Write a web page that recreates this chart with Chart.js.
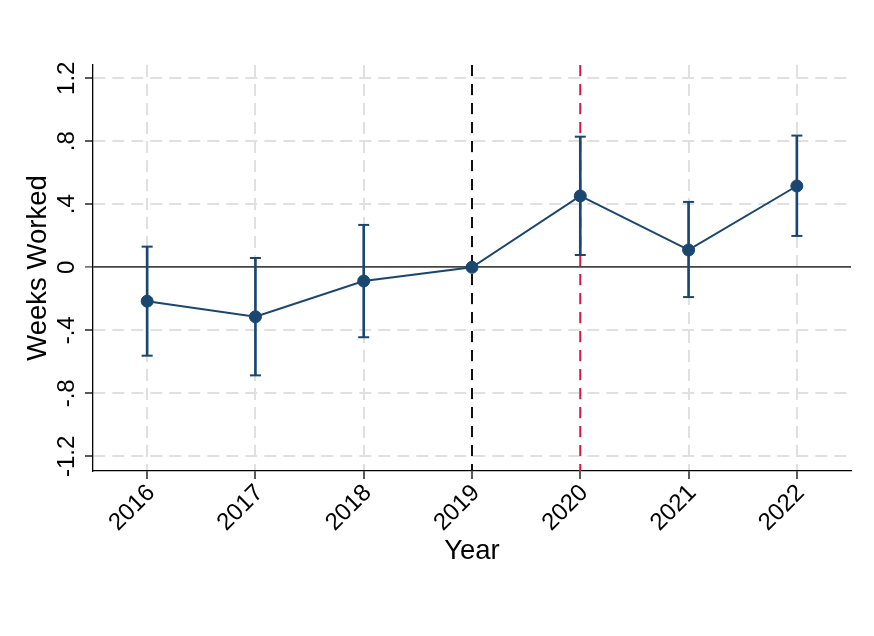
<!DOCTYPE html>
<html>
<head>
<meta charset="utf-8">
<script src="https://cdn.jsdelivr.net/npm/chart.js@4"></script>
<style>
  html, body { margin: 0; padding: 0; background: #fff; }
  canvas { display: block; }
</style>
</head>
<body>
<canvas id="chart" width="874" height="636"></canvas>
<script>
// event-study style plot: coefficient per year with 95% CI

const years  = [2016, 2017, 2018, 2019, 2020, 2021, 2022];
const coef   = [-0.215, -0.314, -0.087, 0, 0.453, 0.110, 0.516];
const ciLow  = [-0.561, -0.686, -0.444, null, 0.078, -0.189, 0.199];
const ciHigh = [0.131, 0.059, 0.269, null, 0.829, 0.415, 0.836];

const yTicks      = [-1.2, -0.8, -0.4, 0, 0.4, 0.8, 1.2];
const yTickLabels = ["-1.2", "-.8", "-.4", "0", ".4", ".8", "1.2"];

const refYears  = [2019, 2020];          // dashed vertical markers
const refColors = ["#111111", "#d81b45"];

const X_MIN = 2015.5, X_MAX = 2022.5;
const Y_MIN = -1.293, Y_MAX = 1.284;

const C = {
  navy: "#1a476f",
  grid: "#e0e0e0",
  zero: "#444444",
  ink:  "#000000",
};
const FONT = "'Liberation Sans', Arial, sans-serif";

// --- datasets --------------------------------------------------------
const pts = years.map((y, i) => ({ x: y, y: coef[i] }));
const ciIdx = years.map((_, i) => i).filter((i) => ciLow[i] !== null);
const ciBars = ciIdx.map((i) => ({ x: years[i], y: [ciLow[i], ciHigh[i]] }));
const capsLo = ciIdx.map((i) => ({ x: years[i], y: ciLow[i] }));
const capsHi = ciIdx.map((i) => ({ x: years[i], y: ciHigh[i] }));

const capStyle = {
  type: "line", showLine: false, pointStyle: "line", pointRadius: 5.5,
  pointBorderWidth: 2, pointBorderColor: C.navy, pointBackgroundColor: C.navy,
};

const datasets = [
  { type: "line", data: pts, borderColor: C.navy, borderWidth: 2, pointRadius: 6,
    pointBackgroundColor: C.navy, pointBorderColor: C.navy, pointBorderWidth: 1 },
  Object.assign({ data: capsHi }, capStyle),
  Object.assign({ data: capsLo }, capStyle),
  { type: "bar", data: ciBars, backgroundColor: C.navy, barThickness: 2 },
];
refYears.forEach((yr, k) => {
  datasets.push({
    type: "line",
    data: [{ x: yr, y: Y_MAX }, { x: yr, y: Y_MIN }],
    borderColor: refColors[k], borderWidth: 2, borderDash: [11, 8], pointRadius: 0,
  });
});

// --- chart -----------------------------------------------------------
new Chart(document.getElementById("chart"), {
  type: "line",
  data: { datasets },
  options: {
    responsive: false,
    animation: false,
    events: [],
    layout: { padding: { left: 0, top: 65, right: 23, bottom: 0 } },
    plugins: { legend: { display: false }, tooltip: { enabled: false } },
    scales: {
      x: {
        type: "linear", min: X_MIN, max: X_MAX, offset: false,
        afterBuildTicks: (s) => { s.ticks = years.map((v) => ({ value: v })); },
        afterFit: (s) => { s.height = 165; },
        ticks: {
          callback: (v) => String(v), minRotation: 45, maxRotation: 45, labelOffset: 4,
          color: C.ink, font: { family: FONT, size: 24 }, padding: 0,
        },
        grid: { color: C.grid, lineWidth: 2, tickLength: 8, tickColor: C.ink, tickWidth: 1.3, offset: false },
        border: { display: true, color: C.ink, width: 1.3, dash: (ctx) => (ctx.tick ? [12, 7] : []) },
        title: { display: true, text: "Year", color: C.ink, font: { family: FONT, size: 27.5 },
                 padding: { top: 0, bottom: 68 } },
      },
      y: {
        type: "linear", min: Y_MIN, max: Y_MAX,
        afterBuildTicks: (s) => { s.ticks = yTicks.map((v) => ({ value: v })); },
        afterFit: (s) => { s.width = 93; },
        ticks: {
          callback: (v, i) => yTickLabels[i], minRotation: 90, maxRotation: 90,
          crossAlign: "center", color: C.ink, font: { family: FONT, size: 24 }, padding: -3,
        },
        grid: {
          color: (ctx) => (ctx.tick && ctx.tick.value === 0 ? C.zero : C.grid),
          lineWidth: (ctx) => (ctx.tick && ctx.tick.value === 0 ? 1.8 : 2),
          tickLength: 8,
          tickColor: (ctx) => (ctx.tick && ctx.tick.value === 0 ? C.zero : C.ink),
          tickWidth: 1.3,
        },
        border: {
          display: true, color: C.ink, width: 1.3,
          dash: (ctx) => (ctx.tick && ctx.tick.value !== 0 ? [12, 7] : []),
        },
        title: { display: true, text: "Weeks Worked", color: C.ink, font: { family: FONT, size: 27.5 },
                 padding: { top: 22, bottom: 0 } },
      },
    },
  },
});
</script>
</body>
</html>
